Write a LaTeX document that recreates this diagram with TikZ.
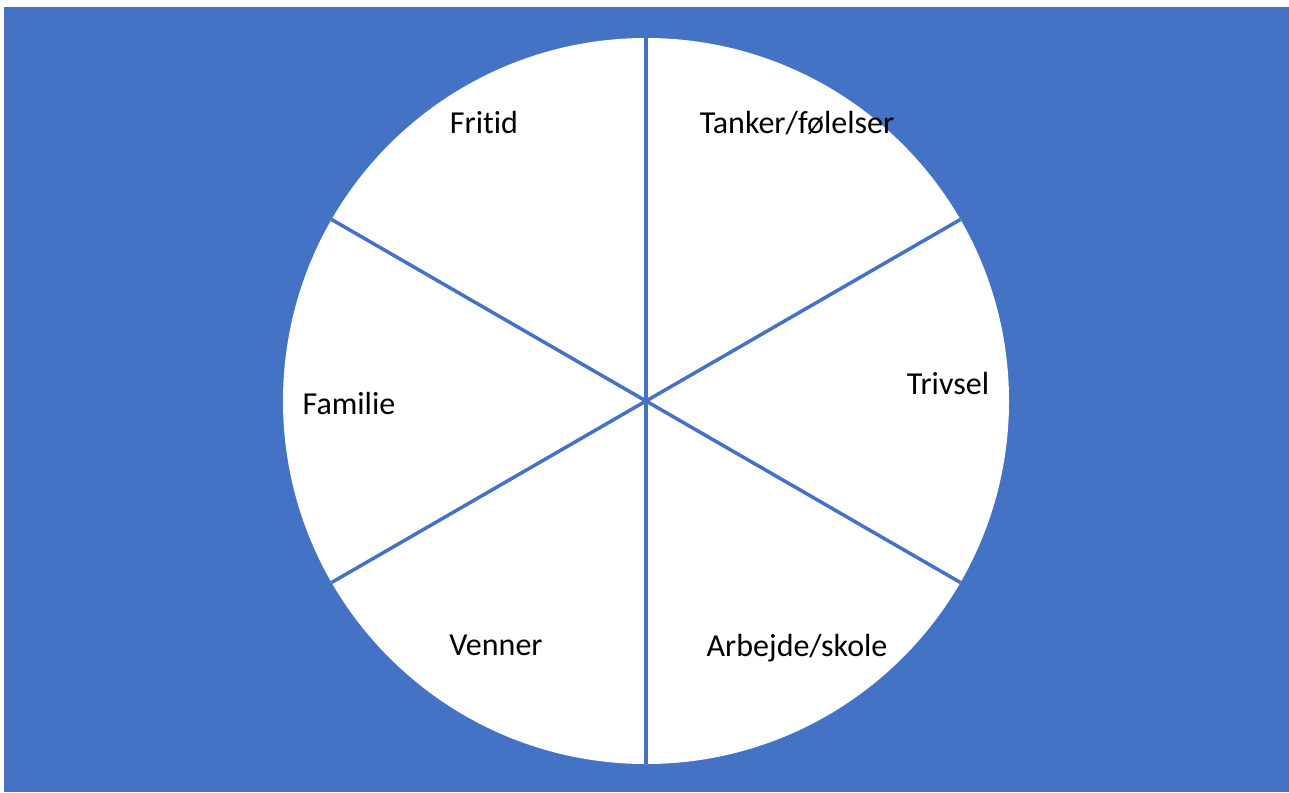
\documentclass[tikz,border=0pt]{standalone}
\usepackage{fontspec}
\setmainfont{Carlito}[Ligatures=NoCommon]
\definecolor{bgblue}{HTML}{4472C4}
\begin{document}
\begin{tikzpicture}[x=1pt,y=-1pt,
  spoke/.style={draw=bgblue,line width=3.5pt},
  lbl/.style={font=\fontsize{32}{38}\selectfont,text=black,inner sep=0pt,anchor=center}]
\useasboundingbox (0,0) rectangle (1289,792);
\fill[white] (0,0) rectangle (1289,792);
\fill[bgblue] (4,7) rectangle (1289,792);
\coordinate (c) at (646,401);
\fill[white] (c) circle[radius=363];
\coordinate (top) at (646,38);
\coordinate (bot) at (646,764);
\coordinate (ul) at (331.6,219.5);
\coordinate (lr) at (960.4,582.5);
\coordinate (ll) at (331.6,582.5);
\coordinate (ur) at (960.4,219.5);
\draw[spoke] (top) -- (bot);
\draw[spoke] (ul) -- (lr);
\draw[spoke] (ll) -- (ur);
\node[lbl] (fritid) at (484,123) {Fritid};
\node[lbl] (tanker) at (797,123) {Tanker/følelser};
\node[lbl] (trivsel) at (948,384) {Trivsel};
\node[lbl] (familie) at (349,404) {Familie};
\node[lbl] (venner) at (496,645) {Venner};
\node[lbl] (arbejde) at (797,648) {Arbejde/skole};
\end{tikzpicture}
\end{document}
